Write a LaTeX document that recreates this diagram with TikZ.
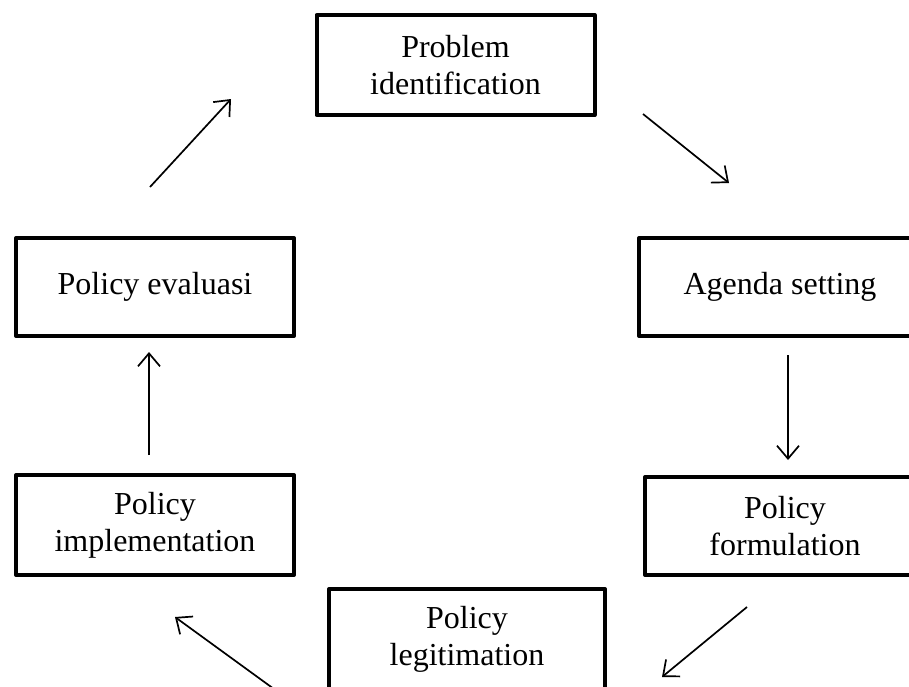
\documentclass[tikz,border=0pt]{standalone}
\usepackage{fontspec}
\setmainfont{Liberation Serif}
\usetikzlibrary{arrows.meta}
\begin{document}
\begin{tikzpicture}[x=1pt,y=-1pt,
  stagebox/.style={draw=black, line width=4pt, line join=round, minimum width=278pt, minimum height=100pt,
    inner sep=0pt, align=center, font=\fontsize{32}{37}\selectfont},
  flow/.style={line width=1.7pt, -{Straight Barb[length=13pt,width=22pt,line width=1.7pt]}}]
\useasboundingbox (0,0) rectangle (909,686);
\node[stagebox] (prob) at (455.5,65) {Problem\\identification};
\node[stagebox, minimum width=282pt, minimum height=98pt] (agen) at (780,287) {Agenda setting};
\node[stagebox, minimum height=98pt] (eval) at (155,287) {Policy evaluasi};
\node[stagebox] (impl) at (155,525) {Policy\\implementation};
\node[stagebox, minimum width=280pt, minimum height=98pt] (form) at (785,526) {Policy\\formulation};
\node[stagebox, minimum width=276pt] (legi) at (467,639) {Policy\\legitimation};
\coordinate (a1s) at (150,187); \coordinate (a1e) at (231,99);
\coordinate (a2s) at (643,114); \coordinate (a2e) at (729,183);
\coordinate (a3s) at (788,355); \coordinate (a3e) at (788,460);
\coordinate (a4s) at (747,607); \coordinate (a4e) at (662,677);
\coordinate (a5s) at (274,689); \coordinate (a5e) at (175,617);
\coordinate (a6s) at (149,455); \coordinate (a6e) at (149,352);
\draw[flow] (a1s) -- (a1e);
\draw[flow] (a2s) -- (a2e);
\draw[flow] (a3s) -- (a3e);
\draw[flow] (a4s) -- (a4e);
\draw[flow] (a5s) -- (a5e);
\draw[flow] (a6s) -- (a6e);
\end{tikzpicture}
\end{document}
